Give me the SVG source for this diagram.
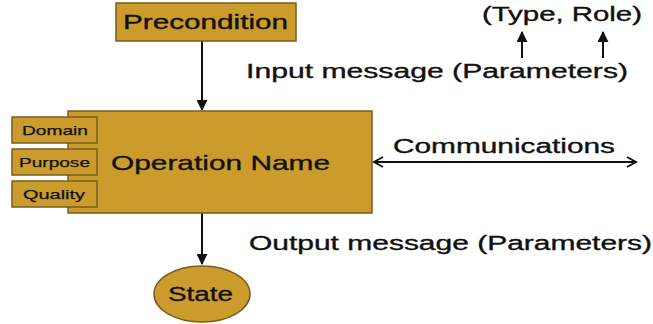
<svg xmlns="http://www.w3.org/2000/svg" width="653" height="324" viewBox="0 0 653 324">
<defs>
<style>
.box{fill:#CB9B2C;stroke:#7A5C1E;stroke-width:1.5}
.t{font-family:"Liberation Sans",Arial,sans-serif;fill:#111;stroke:#111;stroke-width:0.35}
.big{font-size:20px}
.small{font-size:13px;stroke-width:0.25}
.ln{stroke:#111;stroke-width:2;fill:none}
</style>
<marker id="fa" viewBox="0 0 10 10" refX="9" refY="5" markerWidth="5.5" markerHeight="5.5" orient="auto-start-reverse" markerUnits="strokeWidth">
<path d="M0,0 L10,5 L0,10 z" fill="#111"/>
</marker>
<marker id="oa" viewBox="0 0 12 12" refX="10" refY="6" markerWidth="6" markerHeight="6" orient="auto-start-reverse" markerUnits="strokeWidth">
<path d="M1,1 L10,6 L1,11" fill="none" stroke="#111" stroke-width="2"/>
</marker>
</defs>
<rect width="653" height="324" fill="#fff"/>
<g id="connectors">
<line class="ln" x1="202" y1="41" x2="202" y2="110" marker-end="url(#fa)"/>
<line class="ln" x1="202" y1="213" x2="202" y2="264" marker-end="url(#fa)"/>
<line class="ln" x1="374" y1="162" x2="636" y2="162" marker-start="url(#oa)" marker-end="url(#oa)"/>
<line class="ln" x1="522" y1="58" x2="522" y2="32" marker-end="url(#fa)"/>
<line class="ln" x1="603" y1="58" x2="603" y2="32" marker-end="url(#fa)"/>
</g>
<g id="precondition">
<rect class="box" x="116" y="3" width="180" height="38"/>
<text class="t big" x="123" y="29" textLength="165" lengthAdjust="spacingAndGlyphs">Precondition</text>
</g>
<g id="operation">
<rect class="box" x="68" y="111" width="304" height="102"/>
<text class="t" x="111" y="170" font-size="21" textLength="219" lengthAdjust="spacingAndGlyphs">Operation Name</text>
</g>
<g id="domain">
<rect class="box" x="12" y="117" width="85" height="26"/>
<text class="t small" x="22" y="135" textLength="66" lengthAdjust="spacingAndGlyphs">Domain</text>
</g>
<g id="purpose">
<rect class="box" x="12" y="149" width="85" height="26"/>
<text class="t small" x="19" y="167" textLength="71" lengthAdjust="spacingAndGlyphs">Purpose</text>
</g>
<g id="quality">
<rect class="box" x="12" y="181" width="85" height="26"/>
<text class="t small" x="23" y="199" textLength="62" lengthAdjust="spacingAndGlyphs">Quality</text>
</g>
<g id="state">
<ellipse class="box" cx="202" cy="294" rx="48" ry="28"/>
<text class="t big" x="168" y="301" textLength="65" lengthAdjust="spacingAndGlyphs">State</text>
</g>
<g id="labels">
<text class="t big" x="393" y="153" textLength="222" lengthAdjust="spacingAndGlyphs">Communications</text>
<text class="t big" x="482" y="21" textLength="160" lengthAdjust="spacingAndGlyphs">(Type, Role)</text>
<text class="t big" x="246" y="78" textLength="382" lengthAdjust="spacingAndGlyphs">Input message (Parameters)</text>
<text class="t big" x="249" y="250" textLength="403" lengthAdjust="spacingAndGlyphs">Output message (Parameters)</text>
</g>
</svg>
